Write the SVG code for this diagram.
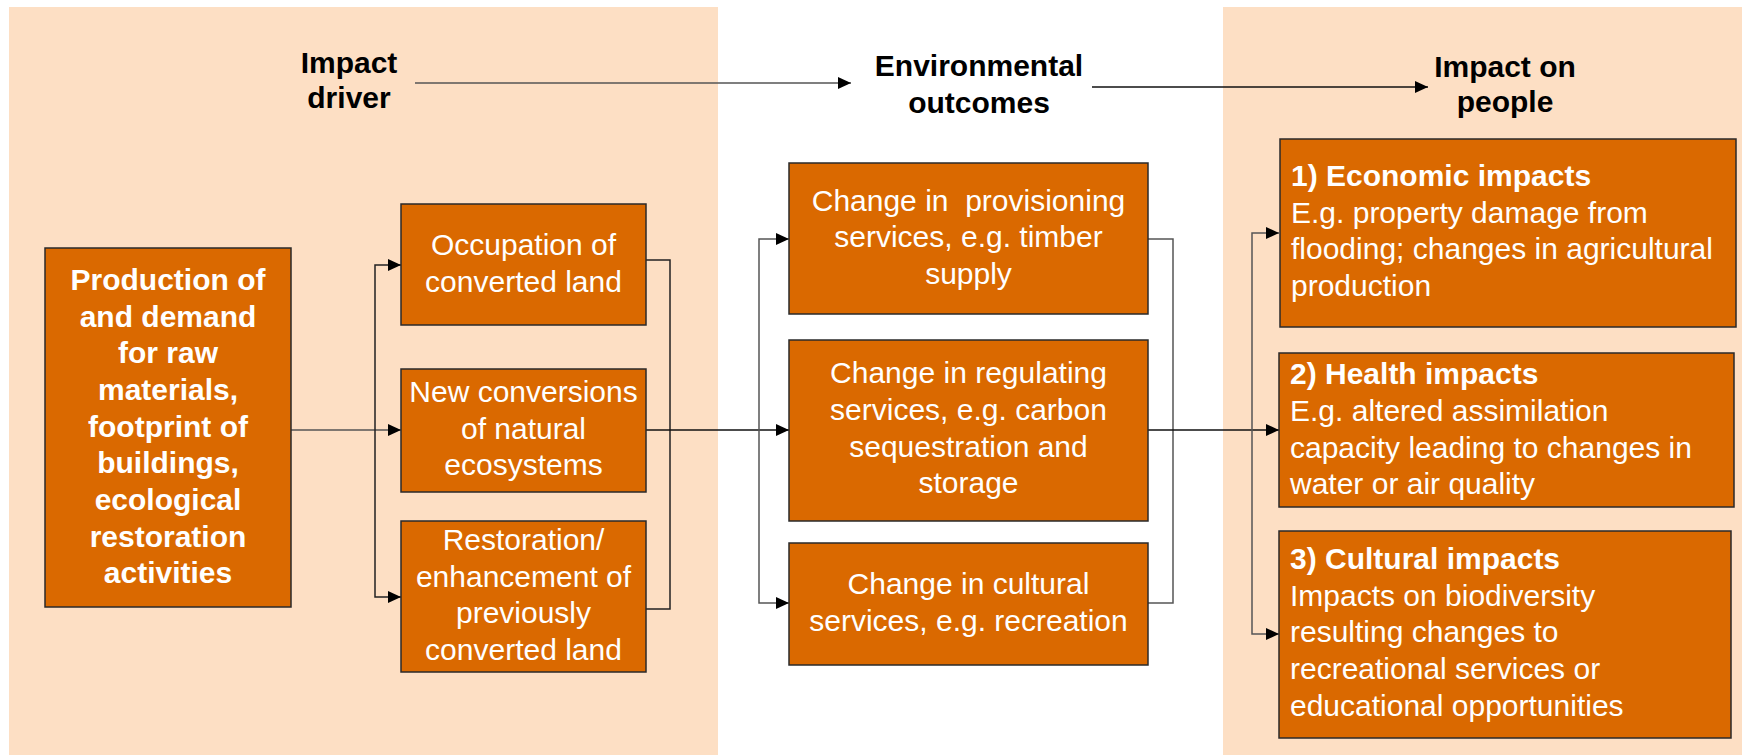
<svg xmlns="http://www.w3.org/2000/svg" width="1742" height="755" viewBox="0 0 1742 755">
  <style>
    .panel { fill: #FDDFC4; }
    .box { fill: #DA6900; stroke: #2a2a2a; stroke-width: 1.5; }
    .head { font-family: "Liberation Sans", Arial, sans-serif; font-size: 30px; font-weight: bold; fill: #000; text-anchor: middle; }
    .t { font-family: "Liberation Sans", Arial, sans-serif; font-size: 30px; fill: #fff; text-anchor: middle; }
    .tb { font-family: "Liberation Sans", Arial, sans-serif; font-size: 30px; font-weight: bold; fill: #fff; text-anchor: middle; }
    .tl { font-family: "Liberation Sans", Arial, sans-serif; font-size: 30px; fill: #fff; }
    .tlb { font-family: "Liberation Sans", Arial, sans-serif; font-size: 30px; font-weight: bold; fill: #fff; }
    .wire { fill: none; stroke: #555; stroke-width: 1.5; }
    .arr { marker-end: url(#tip); }
  </style>
  <defs>
    <marker id="tip" markerUnits="userSpaceOnUse" markerWidth="14" markerHeight="12" refX="13" refY="6" orient="auto">
      <path d="M0,0 L13,6 L0,12 z" fill="#000"/>
    </marker>
  </defs>

  <rect width="1742" height="755" fill="#fff"/>
  <!-- column backgrounds -->
  <rect class="panel" x="9" y="7" width="709" height="748"/>
  <rect class="panel" x="1223" y="7" width="519" height="748"/>

  <!-- column headings -->
  <g id="heading-driver">
    <text class="head" x="349" y="73">Impact</text>
    <text class="head" x="349" y="108">driver</text>
  </g>
  <g id="heading-outcomes">
    <text class="head" x="979" y="76">Environmental</text>
    <text class="head" x="979" y="113">outcomes</text>
  </g>
  <g id="heading-people">
    <text class="head" x="1505" y="77">Impact on</text>
    <text class="head" x="1505" y="112">people</text>
  </g>

  <!-- connectors -->
  <g id="connectors">
    <path class="wire arr" d="M415,83 H851"/>
    <path class="wire arr" d="M1092,87 H1428" style="stroke:#111"/>

    <path class="wire arr" d="M291,430 H401"/>
    <path class="wire arr" d="M375,430 V265 H401" style="stroke:#222"/>
    <path class="wire arr" d="M375,430 V597 H401" style="stroke:#222"/>
    <path class="wire" d="M646,260 H670 V609 H646" style="stroke:#222"/>
    <path class="wire arr" d="M646,430 H789" style="stroke:#111"/>

    <path class="wire arr" d="M759,430 V239 H789"/>
    <path class="wire arr" d="M759,430 V603 H789"/>
    <path class="wire" d="M1148,239 H1173 V603 H1148"/>
    <path class="wire arr" d="M1148,430 H1279" style="stroke:#111"/>

    <path class="wire arr" d="M1252,430 V233 H1279"/>
    <path class="wire arr" d="M1252,430 V634 H1279"/>
  </g>

  <!-- impact driver -->
  <g id="node-driver">
    <rect class="box" x="45" y="248" width="246" height="359"/>
    <text class="tb" x="168" y="290">Production of</text>
    <text class="tb" x="168" y="327">and demand</text>
    <text class="tb" x="168" y="363">for raw</text>
    <text class="tb" x="168" y="400">materials,</text>
    <text class="tb" x="168" y="437">footprint of</text>
    <text class="tb" x="168" y="473">buildings,</text>
    <text class="tb" x="168" y="510">ecological</text>
    <text class="tb" x="168" y="547">restoration</text>
    <text class="tb" x="168" y="583">activities</text>
  </g>

  <!-- land use changes -->
  <g id="node-occupation">
    <rect class="box" x="401" y="204" width="245" height="121"/>
    <text class="t" x="523.5" y="255">Occupation of</text>
    <text class="t" x="523.5" y="292">converted land</text>
  </g>
  <g id="node-conversions">
    <rect class="box" x="401" y="369" width="245" height="123"/>
    <text class="t" x="523.5" y="402">New conversions</text>
    <text class="t" x="523.5" y="439">of natural</text>
    <text class="t" x="523.5" y="475">ecosystems</text>
  </g>
  <g id="node-restoration">
    <rect class="box" x="401" y="521" width="245" height="151"/>
    <text class="t" x="523.5" y="550">Restoration/</text>
    <text class="t" x="523.5" y="587">enhancement of</text>
    <text class="t" x="523.5" y="623">previously</text>
    <text class="t" x="523.5" y="660">converted land</text>
  </g>

  <!-- environmental outcomes -->
  <g id="node-provisioning">
    <rect class="box" x="789" y="163" width="359" height="151"/>
    <text class="t" x="968.5" y="211" xml:space="preserve">Change in  provisioning</text>
    <text class="t" x="968.5" y="247">services, e.g. timber</text>
    <text class="t" x="968.5" y="284">supply</text>
  </g>
  <g id="node-regulating">
    <rect class="box" x="789" y="340" width="359" height="181"/>
    <text class="t" x="968.5" y="383">Change in regulating</text>
    <text class="t" x="968.5" y="420">services, e.g. carbon</text>
    <text class="t" x="968.5" y="457">sequestration and</text>
    <text class="t" x="968.5" y="493">storage</text>
  </g>
  <g id="node-cultural-services">
    <rect class="box" x="789" y="543" width="359" height="122"/>
    <text class="t" x="968.5" y="594">Change in cultural</text>
    <text class="t" x="968.5" y="631">services, e.g. recreation</text>
  </g>

  <!-- impacts on people -->
  <g id="node-economic">
    <rect class="box" x="1280" y="139" width="456" height="188"/>
    <text class="tlb" x="1291" y="186">1) Economic impacts</text>
    <text class="tl" x="1291" y="223">E.g. property damage from</text>
    <text class="tl" x="1291" y="259">flooding; changes in agricultural</text>
    <text class="tl" x="1291" y="296">production</text>
  </g>
  <g id="node-health">
    <rect class="box" x="1279" y="353" width="455" height="154"/>
    <text class="tlb" x="1290" y="384">2) Health impacts</text>
    <text class="tl" x="1290" y="421">E.g. altered assimilation</text>
    <text class="tl" x="1290" y="458">capacity leading to changes in</text>
    <text class="tl" x="1290" y="494">water or air quality</text>
  </g>
  <g id="node-cultural-impacts">
    <rect class="box" x="1279" y="531" width="452" height="207"/>
    <text class="tlb" x="1290" y="569">3) Cultural impacts</text>
    <text class="tl" x="1290" y="606">Impacts on biodiversity</text>
    <text class="tl" x="1290" y="642">resulting changes to</text>
    <text class="tl" x="1290" y="679">recreational services or</text>
    <text class="tl" x="1290" y="716">educational opportunities</text>
  </g>
</svg>
